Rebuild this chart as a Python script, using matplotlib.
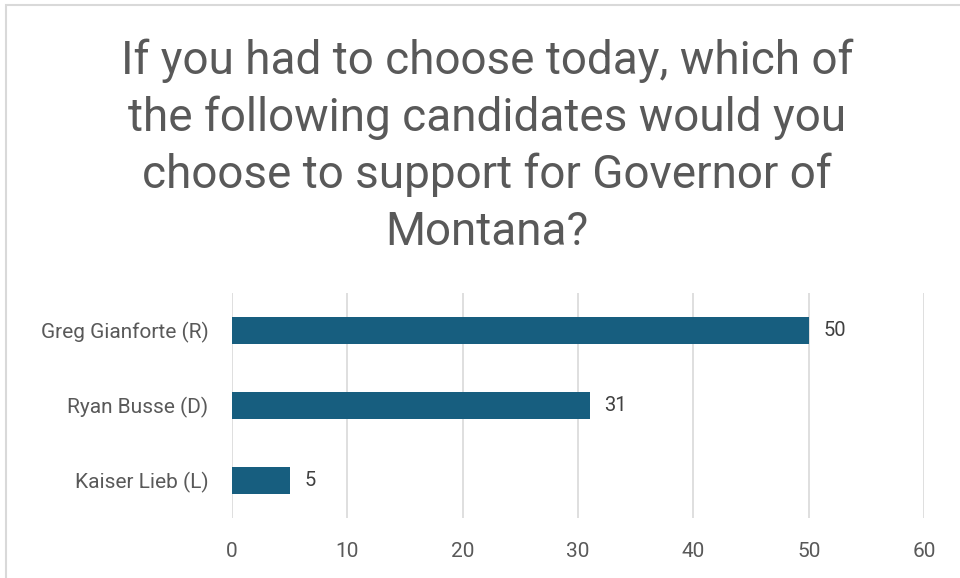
import matplotlib.pyplot as plt
from matplotlib.patches import Rectangle

candidates = ["Greg Gianforte (R)", "Ryan Busse (D)", "Kaiser Lieb (L)"]
support = [50, 31, 5]
x_ticks = [0, 10, 20, 30, 40, 50, 60]
title = ("If you had to choose today, which of\nthe following candidates would you\n"
         "choose to support for Governor of\nMontana?")

plt.rcParams['font.family'] = ['Roboto', 'DejaVu Sans']

fig = plt.figure(figsize=(9.6, 5.78), dpi=100)
ax = fig.add_axes([232 / 960, 1 - 518 / 578, (924 - 232) / 960, (518 - 293) / 578])

pos = list(range(len(candidates)))
ax.barh(pos, support, height=0.35, color='#175e7f', zorder=3)
for p, v in zip(pos, support):
    ax.text(v + 1.3, p, str(v), va='center', ha='left', fontsize=14.5, color='#404040')

ax.set_xlim(0, 60)
ax.set_ylim(2.5, -0.5)
ax.set_xticks(x_ticks)
ax.set_yticks(pos)
ax.set_yticklabels(candidates)
ax.tick_params(axis='both', length=0, labelsize=15, labelcolor='#595959')
ax.tick_params(axis='x', pad=17)
ax.tick_params(axis='y', pad=17)
ax.grid(axis='x', color='#d9d9d9', linewidth=1.2, zorder=0)
for s in ax.spines.values():
    s.set_visible(False)

fig.text(487 / 960, 1 - 146 / 578, title, ha='center', va='center', fontsize=33,
         color='#595959', linespacing=1.36)

fig.patches.append(Rectangle((6 / 960, -0.1), 1.2, 1 - 5 / 578 + 0.1, transform=fig.transFigure,
                             fill=False, edgecolor='#d9d9d9', linewidth=1.5))

fig.savefig("out.png", dpi=100)
